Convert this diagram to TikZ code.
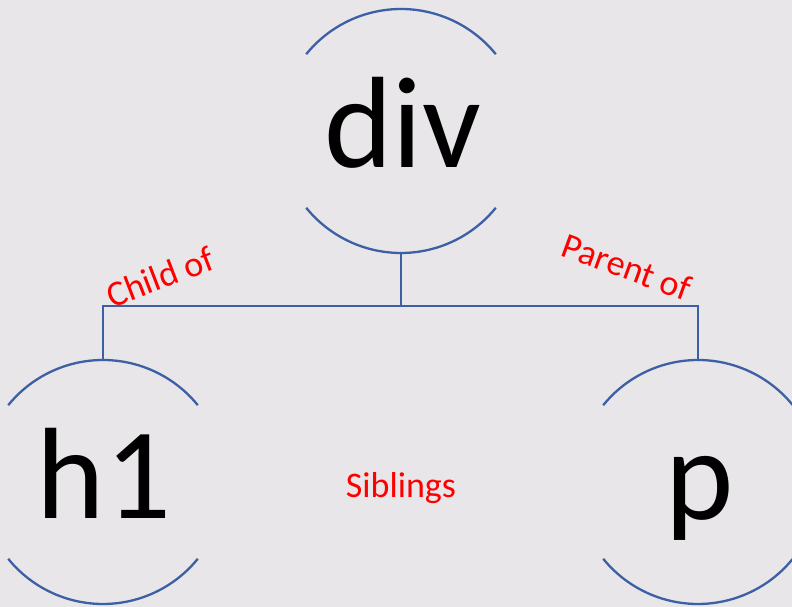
\documentclass[tikz,border=0pt]{standalone}
\usepackage{fontspec}
\setmainfont{Carlito}
\definecolor{bgc}{RGB}{232,230,232}
\definecolor{linec}{RGB}{60,95,165}
\begin{document}
\begin{tikzpicture}[x=1pt,y=1pt,
  ring/.style={circle,minimum size=244pt,inner sep=0pt,outer sep=0pt},
  big/.style={font=\fontsize{130}{130}\selectfont,inner sep=0pt,anchor=base},
  lbl/.style={font=\fontsize{36}{36}\selectfont,text=red,inner sep=0pt},
  wire/.style={draw=linec,line width=2.3pt}]
\fill[bgc] (0,0) rectangle (792,607);
\useasboundingbox (0,0) rectangle (792,607);
\node[ring] (div) at (401,476) {};
\node[ring] (h1) at (103,125) {};
\node[ring] (p) at (698,125) {};
\node[big] (tdiv) at (403,439) {div};
\node[big] (th1) at (104,88) {h1};
\node[big] (tp) at (700,87) {p};
\foreach \n in {div,h1,p}{
  \draw[wire] (\n.39) arc[start angle=39,end angle=141,radius=122pt];
  \draw[wire] (\n.219) arc[start angle=219,end angle=321,radius=122pt];
}
\coordinate (j) at (401,301);
\draw[wire] (div.south) -- (j);
\draw[wire] (j) -| (h1.north);
\draw[wire] (j) -| (p.north);
\node[lbl,rotate=21] (child) at (160,330) {Child of};
\node[lbl,rotate=-20] (parent) at (627,340) {Parent of};
\node[lbl] (sib) at (401,119) {Siblings};
\end{tikzpicture}
\end{document}
